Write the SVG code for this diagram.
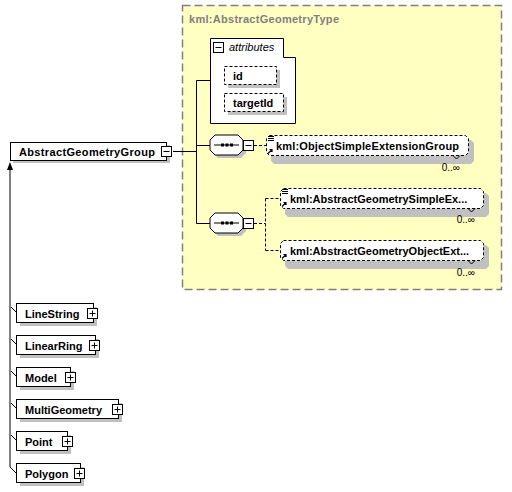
<svg xmlns="http://www.w3.org/2000/svg" width="512" height="492" viewBox="0 0 512 492">
<style>
text{font-family:"Liberation Sans",Arial,sans-serif;font-size:11px;fill:#000}
.b{font-weight:bold}
.shadow{fill:#c0c0c0;stroke:none}
.box{fill:#fff;stroke:#000;stroke-width:1}
.dbox{fill:#fff;stroke:#000;stroke-width:1;stroke-dasharray:3,2}
.ln{fill:none;stroke:#000;stroke-width:1}
.dln{fill:none;stroke:#000;stroke-width:1;stroke-dasharray:3,2}
.occ{font-size:10px}
</style>
<defs>
<g id="minus"><rect x="0.5" y="0.5" width="10" height="10" fill="#fff" stroke="#000"/><path d="M2.5,5.5H8.5" stroke="#000"/></g>
<g id="plus"><rect x="0.5" y="0.5" width="10" height="10" fill="#fff" stroke="#000"/><path d="M2.5,5.5H8.5M5.5,2.5V8.5" stroke="#000"/></g>
<g id="seq"><polygon points="5,0 28,0 33,5 33,15 28,20 5,20 0,15 0,5" transform="translate(3,3)" class="shadow"/><polygon points="5,0 28,0 33,5 33,15 28,20 5,20 0,15 0,5" class="box"/><path d="M4,10H29" stroke="#000"/><rect x="11" y="8.5" width="3" height="3" fill="#000"/><rect x="15.5" y="8.5" width="3" height="3" fill="#000"/><rect x="20" y="8.5" width="3" height="3" fill="#000"/></g>
<g id="lines3"><path d="M0,0.5H6M0,2.5H6M0,4.5H6" stroke="#000" stroke-width="1"/></g>
<g id="ref"><path d="M0.5,5.5L4.5,1.5M2,1.5H4.5V4" stroke="#000" stroke-width="1.2" fill="none"/></g>
</defs>

<g id="complexType">
<rect x="182.5" y="5.5" width="319" height="284" fill="#ffffc2" stroke="#808080" stroke-width="1.5" stroke-dasharray="8,4"/>
<text x="189" y="23" class="b" style="fill:#808080" textLength="150">kml:AbstractGeometryType</text>
</g>

<g id="connectors">
<path class="ln" d="M10,167V467L16,473"/>
<polygon points="7,170 10,162 13,170" fill="#000"/>
<path class="ln" d="M11,307L16,312M11,339L16,344M11,371L16,376M11,403L16,408M11,435L16,440"/>
<path class="ln" d="M173,151.5H196.5M196.5,80.5V223.5M196.5,80.5H210M196.5,145.5H210M196.5,223.5H210"/>
<path class="dln" d="M254,145.5H266M254,223.5H265.5M265.5,198.5V250.5M265.5,198.5H280M265.5,250.5H280"/>
</g>

<g id="AbstractGeometryGroup">
<rect x="13" y="145" width="157" height="18" class="shadow"/>
<rect x="10.5" y="142.5" width="156" height="18" class="box"/>
<text x="19" y="156" class="b" textLength="136">AbstractGeometryGroup</text>
<use href="#minus" x="161" y="146"/>
</g>

<g id="attributes">
<polygon points="210.5,38.5 283.5,38.5 283.5,57.5 295.5,57.5 295.5,123.5 210.5,123.5" class="box"/>
<use href="#minus" x="213" y="42"/>
<text x="229" y="51" style="font-style:italic">attributes</text>
</g>

<g id="attr-id">
<rect x="228" y="70" width="52" height="18" class="shadow"/>
<rect x="224.5" y="66.5" width="52" height="18" class="dbox"/>
<text x="233" y="80" class="b">id</text>
</g>

<g id="attr-targetId">
<rect x="228" y="97" width="59" height="18" class="shadow"/>
<rect x="224.5" y="93.5" width="59" height="18" class="dbox"/>
<text x="233" y="107" class="b">targetId</text>
</g>

<g id="sequence1">
<use href="#seq" x="210" y="135"/>
<use href="#minus" x="243" y="140"/>
</g>

<g id="sequence2">
<use href="#seq" x="210" y="213"/>
<use href="#minus" x="243" y="218"/>
</g>

<g id="ObjectSimpleExtensionGroup">
<polygon points="274,140 471,140 474,143 474,161 471,164 274,164 271,161 271,143" class="shadow"/>
<polygon points="269.5,135.5 465.5,135.5 468.5,138.5 468.5,152.5 465.5,155.5 269.5,155.5 266.5,152.5 266.5,138.5" class="dbox"/>
<path d="M453,155.5L456.5,159L460,155.5" class="ln"/>
<use href="#lines3" x="268" y="136"/>
<use href="#ref" x="267.5" y="148"/>
<text x="276" y="150" class="b" textLength="183">kml:ObjectSimpleExtensionGroup</text>
<text x="460" y="171" class="occ" text-anchor="end">0..∞</text>
</g>

<g id="AbstractGeometrySimpleExtensionGroup">
<polygon points="288,193 486,193 489,196 489,214 486,217 288,217 285,214 285,196" class="shadow"/>
<polygon points="283.5,188.5 480.5,188.5 483.5,191.5 483.5,205.5 480.5,208.5 283.5,208.5 280.5,205.5 280.5,191.5" class="dbox"/>
<path d="M468,208.5L471.5,212L475,208.5" class="ln"/>
<use href="#lines3" x="282" y="189"/>
<use href="#ref" x="281.5" y="201"/>
<text x="290" y="203" class="b">kml:AbstractGeometrySimpleEx...</text>
<text x="475" y="223" class="occ" text-anchor="end">0..∞</text>
</g>

<g id="AbstractGeometryObjectExtensionGroup">
<polygon points="288,245 486,245 489,248 489,266 486,269 288,269 285,266 285,248" class="shadow"/>
<polygon points="283.5,240.5 480.5,240.5 483.5,243.5 483.5,257.5 480.5,260.5 283.5,260.5 280.5,257.5 280.5,243.5" class="dbox"/>
<path d="M468,260.5L471.5,264L475,260.5" class="ln"/>
<use href="#ref" x="281.5" y="253"/>
<text x="290" y="255" class="b">kml:AbstractGeometryObjectExt...</text>
<text x="475" y="276" class="occ" text-anchor="end">0..∞</text>
</g>

<g id="LineString">
<rect x="20" y="307" width="77" height="19" class="shadow"/>
<rect x="16.5" y="303.5" width="77" height="19" class="box"/>
<text x="25" y="318" class="b">LineString</text>
<use href="#plus" x="87" y="308"/>
</g>

<g id="LinearRing">
<rect x="20" y="339" width="79" height="19" class="shadow"/>
<rect x="16.5" y="335.5" width="79" height="19" class="box"/>
<text x="25" y="350" class="b">LinearRing</text>
<use href="#plus" x="89" y="340"/>
</g>

<g id="Model">
<rect x="20" y="371" width="54" height="19" class="shadow"/>
<rect x="16.5" y="367.5" width="54" height="19" class="box"/>
<text x="25" y="382" class="b">Model</text>
<use href="#plus" x="65" y="372"/>
</g>

<g id="MultiGeometry">
<rect x="20" y="403" width="102" height="19" class="shadow"/>
<rect x="16.5" y="399.5" width="102" height="19" class="box"/>
<text x="25" y="414" class="b">MultiGeometry</text>
<use href="#plus" x="112" y="404"/>
</g>

<g id="Point">
<rect x="20" y="435" width="51" height="19" class="shadow"/>
<rect x="16.5" y="431.5" width="51" height="19" class="box"/>
<text x="25" y="446" class="b">Point</text>
<use href="#plus" x="62" y="436"/>
</g>

<g id="Polygon">
<rect x="20" y="467" width="64" height="19" class="shadow"/>
<rect x="16.5" y="463.5" width="64" height="19" class="box"/>
<text x="25" y="478" class="b">Polygon</text>
<use href="#plus" x="74" y="468"/>
</g>
</svg>
